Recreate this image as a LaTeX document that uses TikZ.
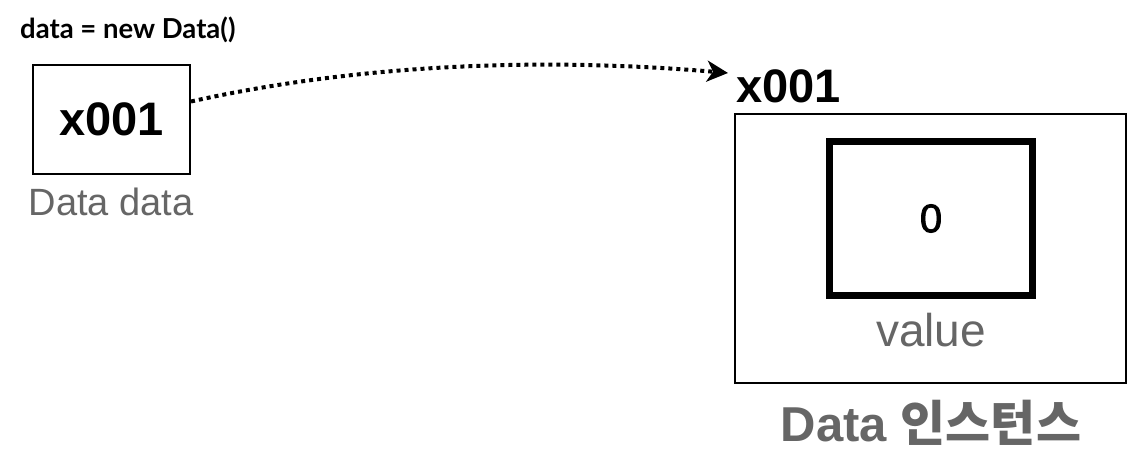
\documentclass[tikz,border=0pt]{standalone}
\usepackage{fontspec}
\setmainfont{Liberation Sans}
\newfontfamily\codefont{Lato}
\newfontfamily\krfont{Noto Sans CJK KR}
\usetikzlibrary{arrows.meta}
\definecolor{labelgray}{HTML}{666666}
\tikzset{
  refbox/.style={draw=black, line width=2pt, minimum width=157pt, minimum height=109pt, inner sep=0pt},
  objbox/.style={draw=black, line width=1.5pt, minimum width=391pt, minimum height=269pt, inner sep=0pt},
  fieldbox/.style={draw=black, line width=7pt, minimum width=203pt, minimum height=154pt, inner sep=0pt},
  caption/.style={text=labelgray, inner sep=0pt},
  pointer/.style={line width=4pt, dash pattern=on 4pt off 4pt, line cap=butt,
    -{Stealth[length=21pt,width=21pt,inset=6pt]}}
}
\begin{document}
\begin{tikzpicture}[x=1pt,y=-1pt]
\useasboundingbox (0,0) rectangle (1148,470);

% statement
\node[anchor=west, inner sep=0pt, font=\codefont\bfseries\fontsize{27.5}{32}\selectfont] (stmt) at (20,30) {data = new Data()};

% reference variable
\node[refbox, font=\bfseries\fontsize{47}{56}\selectfont] (ref) at (111.5,119.5) {x001};
\node[caption, font=\fontsize{38}{45}\selectfont] (refname) at (111,202) {Data data};

% instance
\node[anchor=west, inner sep=0pt, font=\bfseries\fontsize{47}{56}\selectfont] (addr) at (736,86) {x001};
\node[objbox] (obj) at (930.5,248.5) {};
\node[fieldbox, font=\addfontfeature{FakeBold=2}\fontsize{40}{48}\selectfont] (field) at (931,218.5) {0};
\node[caption, font=\fontsize{46}{54}\selectfont] (fieldname) at (931,330) {value};
\node[caption, font=\bfseries\fontsize{49}{58}\selectfont] (objname) at (931,423) {Data {\krfont\bfseries 인스턴스}};

% pointer from variable to instance
\coordinate (tip) at ([xshift=-8pt,yshift=13pt]addr.west);
\draw[pointer] ([yshift=18pt]ref.east) .. controls (400,55) and (600,62) .. (tip);
\end{tikzpicture}
\end{document}
